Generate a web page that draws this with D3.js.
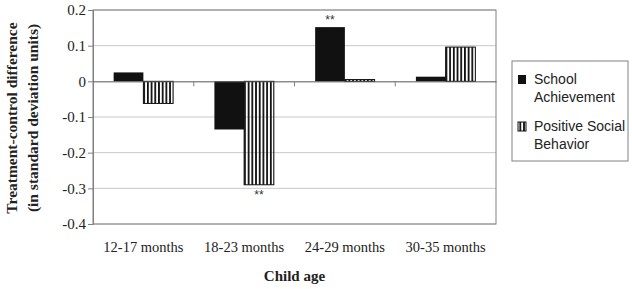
<!DOCTYPE html>
<html>
<head>
<meta charset="utf-8">
<script src="https://cdn.jsdelivr.net/npm/d3@7"></script>
<style>
  body { margin: 0; background: #fff; }
  svg { display: block; }
</style>
</head>
<body>
<svg id="chart" width="632" height="289"></svg>
<script>
// chart data
const ages = ['12-17 months', '18-23 months', '24-29 months', '30-35 months'];
const seriesNames = ['School Achievement', 'Positive Social Behavior'];
const schoolAchievement = [0.025, -0.135, 0.152, 0.013];
const positiveSocial = [-0.062, -0.29, 0.005, 0.096];
const yTicks = [0.2, 0.1, 0, -0.1, -0.2, -0.3, -0.4];
const significant = [{group: 1, series: 1}, {group: 2, series: 0}];

const serif = "'Liberation Serif', 'Times New Roman', serif";
const sans = "'Liberation Sans', Arial, sans-serif";

const svg = d3.select('#chart');
const margin = {left: 93, right: 136, top: 10, bottom: 65};
const width = 632, height = 289;

const x = d3.scaleBand()
    .domain(ages)
    .range([margin.left, width - margin.right])
    .paddingInner(0.41)
    .paddingOuter(0.205);

const xSeries = d3.scaleBand()
    .domain([0, 1])
    .range([0, x.bandwidth()]);

const y = d3.scaleLinear()
    .domain([-0.4, 0.2])
    .range([height - margin.bottom, margin.top]);

// stripe pattern for the second series
const defs = svg.append('defs');
defs.append('pattern')
    .attr('id', 'stripes')
    .attr('patternUnits', 'userSpaceOnUse')
    .attr('width', 3.7)
    .attr('height', 10)
    .append('rect')
    .attr('x', 0).attr('y', 0)
    .attr('width', 1.8).attr('height', 10)
    .attr('fill', '#111');

// gridlines
svg.append('g')
    .selectAll('line')
    .data(yTicks.filter(d => d !== 0))
    .enter().append('line')
    .attr('x1', margin.left).attr('x2', width - margin.right)
    .attr('y1', d => y(d)).attr('y2', d => y(d))
    .attr('stroke', '#c8c8c8')
    .attr('stroke-width', 1);

// plot area border
svg.append('rect')
    .attr('x', margin.left).attr('y', y(0.2))
    .attr('width', width - margin.right - margin.left)
    .attr('height', y(-0.4) - y(0.2))
    .attr('fill', 'none')
    .attr('stroke', '#808080');

// bars
const groups = svg.append('g')
    .selectAll('g')
    .data(ages)
    .enter().append('g')
    .attr('transform', d => `translate(${x(d)},0)`);

groups.append('rect')
    .attr('x', xSeries(0))
    .attr('width', xSeries.bandwidth())
    .attr('y', (d, i) => y(Math.max(0, schoolAchievement[i])))
    .attr('height', (d, i) => Math.abs(y(schoolAchievement[i]) - y(0)))
    .attr('fill', '#111');

groups.append('rect')
    .attr('x', xSeries(1))
    .attr('width', xSeries.bandwidth())
    .attr('y', (d, i) => y(Math.max(0, positiveSocial[i])))
    .attr('height', (d, i) => Math.abs(y(positiveSocial[i]) - y(0)))
    .attr('fill', 'url(#stripes)')
    .attr('stroke', '#111')
    .attr('stroke-width', 1);

// significance stars
svg.append('g')
    .selectAll('text')
    .data(significant)
    .enter().append('text')
    .attr('x', d => x(ages[d.group]) + xSeries(d.series) + xSeries.bandwidth() / 2)
    .attr('y', d => {
        const v = d.series === 0 ? schoolAchievement[d.group] : positiveSocial[d.group];
        return v >= 0 ? y(v) - 3 : y(v) + 14;
    })
    .attr('text-anchor', 'middle')
    .style('font-family', sans)
    .style('font-size', '12px')
    .attr('fill', '#333')
    .text('**');

// y axis
const yAxis = svg.append('g')
    .attr('transform', `translate(${margin.left},0)`)
    .call(d3.axisLeft(y).tickValues(yTicks).tickSize(5)
        .tickFormat(d => d === 0 ? '0' : d.toFixed(1)));
yAxis.select('.domain').attr('stroke', '#808080');
yAxis.selectAll('.tick line').attr('stroke', '#808080');
yAxis.selectAll('text')
    .style('font-family', serif)
    .style('font-size', '15px')
    .attr('fill', '#222')
    .attr('x', -7);

// x axis sits on zero line
const xAxis = svg.append('g')
    .attr('transform', `translate(0,${y(0)})`)
    .call(d3.axisBottom(x).tickSize(0).tickFormat(''));
xAxis.select('.domain').attr('stroke', '#555');
// small separators between groups
xAxis.selectAll('.sep')
    .data(ages.slice(1))
    .enter().append('line')
    .attr('x1', d => x(d) - x.step() * x.paddingInner() / 2)
    .attr('x2', d => x(d) - x.step() * x.paddingInner() / 2)
    .attr('y1', 0).attr('y2', 5)
    .attr('stroke', '#808080');

// category labels
svg.append('g')
    .selectAll('text')
    .data(ages)
    .enter().append('text')
    .attr('x', d => x(d) + x.bandwidth() / 2)
    .attr('y', 252)
    .attr('text-anchor', 'middle')
    .style('font-family', serif)
    .style('font-size', '14.5px')
    .attr('fill', '#222')
    .text(d => d);

// axis titles
svg.append('text')
    .attr('x', (margin.left + width - margin.right) / 2)
    .attr('y', 281)
    .attr('text-anchor', 'middle')
    .style('font-family', serif)
    .style('font-weight', 'bold')
    .style('font-size', '15px')
    .attr('fill', '#222')
    .text('Child age');

const yTitle = svg.append('text')
    .attr('transform', `translate(0,${(y(0.2) + y(-0.4)) / 2 + 1}) rotate(-90)`)
    .attr('text-anchor', 'middle')
    .style('font-family', serif)
    .style('font-weight', 'bold')
    .style('font-size', '15.5px')
    .attr('fill', '#222');
yTitle.append('tspan').attr('x', 0).attr('y', 17).text('Treatment-control difference');
yTitle.append('tspan').attr('x', 0).attr('y', 38).text('(in standard deviation units)');

// legend
const legend = svg.append('g').attr('transform', 'translate(512,61)');
legend.append('rect')
    .attr('x', 0).attr('y', 0)
    .attr('width', 116).attr('height', 100)
    .attr('fill', '#fff')
    .attr('stroke', '#808080');

const legendLines = [['School', 'Achievement'], ['Positive Social', 'Behavior']];
const items = legend.selectAll('.item')
    .data(seriesNames)
    .enter().append('g')
    .attr('transform', (d, i) => `translate(0,${14 + i * 47})`);

items.append('rect')
    .attr('x', 6).attr('y', 0)
    .attr('width', 8).attr('height', 9)
    .attr('fill', (d, i) => i === 0 ? '#111' : 'url(#stripes)')
    .attr('stroke', '#111')
    .attr('stroke-width', (d, i) => i === 0 ? 0 : 1);

items.append('text')
    .style('font-family', sans)
    .style('font-size', '14px')
    .attr('fill', '#222')
    .selectAll('tspan')
    .data((d, i) => legendLines[i])
    .enter().append('tspan')
    .attr('x', 22)
    .attr('y', (d, j) => 9 + j * 18)
    .text(d => d);
</script>
</body>
</html>
